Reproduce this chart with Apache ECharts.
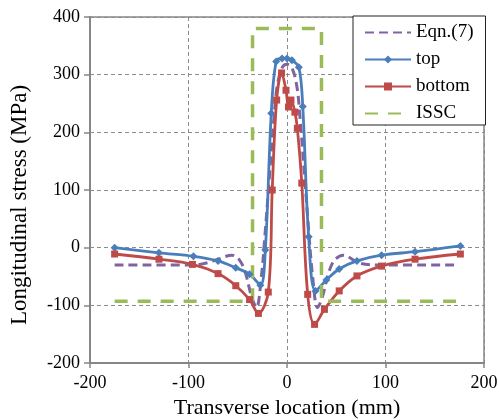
<!DOCTYPE html>
<html>
<head>
<meta charset="utf-8">
<script src="https://cdn.jsdelivr.net/npm/echarts@6/dist/echarts.min.js"></script>
<style>
  html, body { margin: 0; padding: 0; background: #fff; }
  #chart { width: 499px; height: 420px; }
</style>
</head>
<body>
<div id="chart"></div>
<script>
// Longitudinal residual stress across the weld (transverse location vs stress)
const eqnX = [-175, -100, -85, -70, -56, -48, -42, -36, -31, -26, -22, -18, -13, -10, -5, 0, 5, 10, 13, 18, 22, 26, 31, 36, 42, 48, 57, 74, 95, 170];
const eqnY = [-30, -30, -28, -20, -13, -22, -45, -85, -104, -50, 30, 120, 230, 280, 312, 318, 312, 280, 230, 120, 30, -50, -104, -85, -45, -22, -13, -27, -30, -30];

const topX = [-175, -130, -95, -70, -52, -38, -27, -22, -16, -11, -5, 0, 5, 12, 16, 22, 29, 40, 53, 71, 96, 130, 176];
const topY = [0, -9, -15, -23, -35, -46, -65, -4, 233, 323, 328, 328, 325, 313, 245, 19, -75, -56, -37, -23, -13, -7, 3];

const bottomX = [-175, -130, -96, -70, -52, -38, -29, -19, -15, -10.5, -5.5, -1, 1.5, 4, 8, 10.5, 15, 21, 28, 38, 53, 71, 96, 130, 176];
const bottomY = [-11, -20, -29, -45, -66, -90, -114, -77, 100, 256, 303, 273, 244, 256, 235, 207, 112, -81, -133, -107, -75, -49, -32, -20, -11];

const isscX = [-175, -35, -35, 35, 35, 175];
const isscY = [-93, -93, 380, 380, -93, -93];

const xTicks = [-200, -100, 0, 100, 200];
const yTicks = [-200, -100, 0, 100, 200, 300, 400];

const pairs = (xs, ys) => xs.map((x, i) => [x, ys[i]]);

const serif = '"Liberation Serif", "DejaVu Serif", serif';
const axisGray = '#868686';
const gridGray = '#8c8c8c';

const chart = echarts.init(document.getElementById('chart'), null, { renderer: 'canvas' });

chart.setOption({
  animation: false,
  backgroundColor: '#fff',
  grid: {
    left: 90, right: 15, top: 17, bottom: 57,
    outerBoundsMode: 'none',
    containLabel: false,
    show: true,
    borderColor: axisGray,
    borderWidth: 1.5
  },
  legend: {
    orient: 'vertical',
    left: 353,
    top: 16,
    padding: [7, 12, 2, 11],
    itemWidth: 46,
    itemHeight: 10,
    itemGap: 8,
    backgroundColor: '#fff',
    borderColor: '#222',
    borderWidth: 1,
    textStyle: { fontFamily: serif, fontSize: 19, lineHeight: 19, color: '#000' },
    data: [
      { name: 'Eqn.(7)', itemStyle: { opacity: 0 } },
      { name: 'top' },
      { name: 'bottom' },
      { name: 'ISSC', itemStyle: { opacity: 0 } }
    ]
  },
  xAxis: {
    type: 'value',
    min: xTicks[0],
    max: xTicks[xTicks.length - 1],
    interval: 100,
    name: 'Transverse location (mm)',
    nameLocation: 'middle',
    nameGap: 34,
    nameTextStyle: { fontFamily: serif, fontSize: 22, color: '#000' },
    axisLine: { onZero: false, lineStyle: { color: axisGray, width: 2 } },
    axisTick: { show: true, length: 5, lineStyle: { color: axisGray, width: 1.5 } },
    axisLabel: { fontFamily: serif, fontSize: 18, color: '#000', margin: 11 },
    splitLine: { show: true, lineStyle: { color: gridGray, width: 1, type: [4, 3] } }
  },
  yAxis: {
    type: 'value',
    min: yTicks[0],
    max: yTicks[yTicks.length - 1],
    interval: 100,
    name: 'Longitudinal stress (MPa)',
    nameLocation: 'middle',
    nameGap: 59,
    nameTextStyle: { fontFamily: serif, fontSize: 23, color: '#000', padding: [0, 0, 0, -30] },
    axisLine: { onZero: false, lineStyle: { color: axisGray, width: 2 } },
    axisTick: { show: true, length: 6, lineStyle: { color: axisGray, width: 1.5 } },
    axisLabel: { fontFamily: serif, fontSize: 18, color: '#000', margin: 10 },
    splitLine: { show: true, lineStyle: { color: gridGray, width: 1, type: [4, 3] } }
  },
  series: [
    {
      name: 'Eqn.(7)',
      type: 'line',
      data: pairs(eqnX, eqnY),
      smooth: 0.35,
      showSymbol: false,
      symbol: 'none',
      color: '#8064A2',
      lineStyle: { color: '#8064A2', width: 3, type: [9, 5] }
    },
    {
      name: 'top',
      type: 'line',
      data: pairs(topX, topY),
      smooth: 0.35,
      symbol: 'diamond',
      symbolSize: 8,
      color: '#4A7EBB',
      itemStyle: { color: '#4A7EBB' },
      lineStyle: { color: '#4A7EBB', width: 2.8 }
    },
    {
      name: 'bottom',
      type: 'line',
      data: pairs(bottomX, bottomY),
      smooth: 0.35,
      symbol: 'rect',
      symbolSize: 7,
      color: '#BE4B48',
      itemStyle: { color: '#BE4B48' },
      lineStyle: { color: '#BE4B48', width: 2.8 }
    },
    {
      name: 'ISSC',
      type: 'line',
      data: pairs(isscX, isscY),
      symbol: 'none',
      color: '#9BBB59',
      lineStyle: { color: '#9BBB59', width: 3.5, type: [13, 10] }
    }
  ]
});
</script>
</body>
</html>
